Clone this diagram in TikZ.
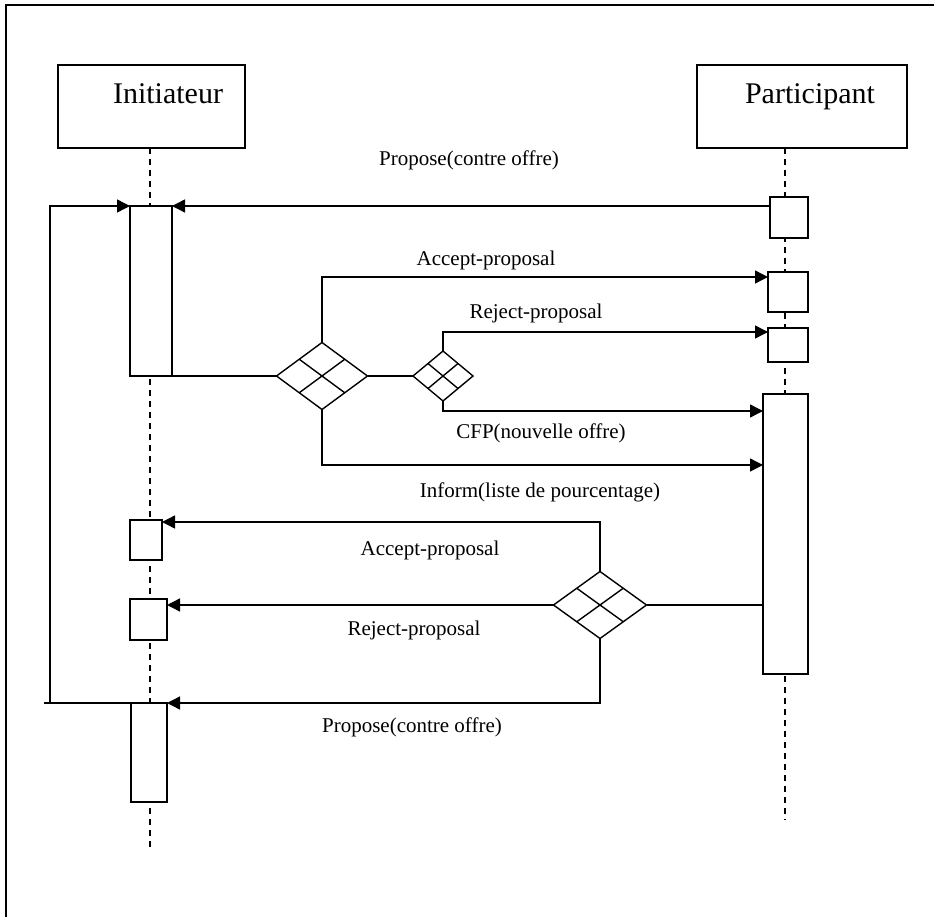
\documentclass[tikz,border=0pt]{standalone}
\usepackage{fontspec}
\setmainfont{Liberation Serif}
\usetikzlibrary{arrows.meta,shapes.geometric,calc}
\tikzset{
  ln/.style={line width=1.4pt,line join=miter},
  msg/.style={ln,-{Triangle[length=13pt,width=13pt]}},
  life/.style={line width=1.4pt,dash pattern=on 6pt off 5pt},
  act/.style={draw,ln,fill=white,inner sep=0pt,outer sep=0pt,anchor=north west},
  head/.style={draw,ln,fill=white,inner sep=0pt,outer sep=0pt},
  htxt/.style={inner sep=0pt,anchor=base,font=\fontsize{30}{36}\selectfont},
  lbl/.style={inner sep=0pt,anchor=base,font=\fontsize{21}{25}\selectfont},
  dia/.style={draw,ln,shape=diamond,inner sep=0pt,outer sep=0pt,fill=white},
}
\newcommand{\gridd}[1]{%
  \draw[ln] ($(#1.north)!0.5!(#1.west)$) -- ($(#1.south)!0.5!(#1.east)$);
  \draw[ln] ($(#1.north)!0.5!(#1.east)$) -- ($(#1.south)!0.5!(#1.west)$);}
\begin{document}
\begin{tikzpicture}[x=1pt,y=-1pt]
\useasboundingbox (0,0) rectangle (934,917);
% frame
\draw[line width=2.2pt] (6,917) -- (6,5) -- (934,5);
% lifelines
\draw[life] (150,148) -- (150,847);
\draw[life] (785,148) -- (785,820);
% heads
\node[head,minimum width=187pt,minimum height=83pt] (ini) at (151.5,106.5) {};
\node[htxt] (initxt) at (168,104) {Initiateur};
\node[head,minimum width=210pt,minimum height=83pt] (par) at (802,106.5) {};
\node[htxt] (partxt) at (810,104) {Participant};
% activations
\node[act,minimum width=42pt,minimum height=170pt] (a1) at (130,206) {};
\node[act,minimum width=32pt,minimum height=40pt] (a2) at (130,520) {};
\node[act,minimum width=37pt,minimum height=41pt] (a3) at (130,599) {};
\node[act,minimum width=36pt,minimum height=99pt] (a4) at (131,703) {};
\node[act,minimum width=38pt,minimum height=41pt] (b1) at (770,197) {};
\node[act,minimum width=40pt,minimum height=40pt] (b2) at (768,272) {};
\node[act,minimum width=40pt,minimum height=34pt] (b3) at (768,328) {};
\node[act,minimum width=45pt,minimum height=280pt] (b4) at (763,394) {};
% diamonds
\node[dia,minimum width=91pt,minimum height=67pt] (d1) at (322,376) {};
\node[dia,minimum width=60pt,minimum height=50pt] (d3) at (443,376) {};
\node[dia,minimum width=93pt,minimum height=67pt] (d2) at (600,605) {};
\gridd{d1}\gridd{d3}\gridd{d2}
% coordinates
\coordinate (loopL) at (50,206);
\coordinate (loopB) at (50,703);
\coordinate (botL) at (44,703);
% messages
\draw[msg] (b1.west |- 0,206) -- (a1.north east);
\draw[msg] (loopB) -- (loopL) -- (a1.north west);
\draw[ln] (a1.south east) -- (d1.west);
\draw[msg] (d1.north) -- (322,277) -- (b2.west |- 0,277);
\draw[msg] (d1.south) -- (322,465) -- (b4.west |- 0,465);
\draw[ln] (d1.east) -- (d3.west);
\draw[msg] (d3.north) -- (443,332) -- (b3.west |- 0,332);
\draw[msg] (d3.south) -- (443,411) -- (b4.west |- 0,411);
\draw[ln] (b4.west |- d2.east) -- (d2.east);
\draw[msg] (d2.north) -- (600,522) -- (a2.east |- 0,522);
\draw[msg] (d2.west) -- (a3.east |- d2.west);
\draw[msg] (d2.south) -- (600,703) -- (a4.north east);
\draw[ln] (botL) -- (a4.north west);
% labels
\node[lbl] (l1) at (469,166) {Propose(contre offre)};
\node[lbl] (l2) at (486,266) {Accept-proposal};
\node[lbl] (l3) at (536,319) {Reject-proposal};
\node[lbl] (l4) at (541,438) {CFP(nouvelle offre)};
\node[lbl] (l5) at (540,497) {Inform(liste de pourcentage)};
\node[lbl] (l6) at (430,555) {Accept-proposal};
\node[lbl] (l7) at (414,635) {Reject-proposal};
\node[lbl] (l8) at (412,732) {Propose(contre offre)};
\end{tikzpicture}
\end{document}
